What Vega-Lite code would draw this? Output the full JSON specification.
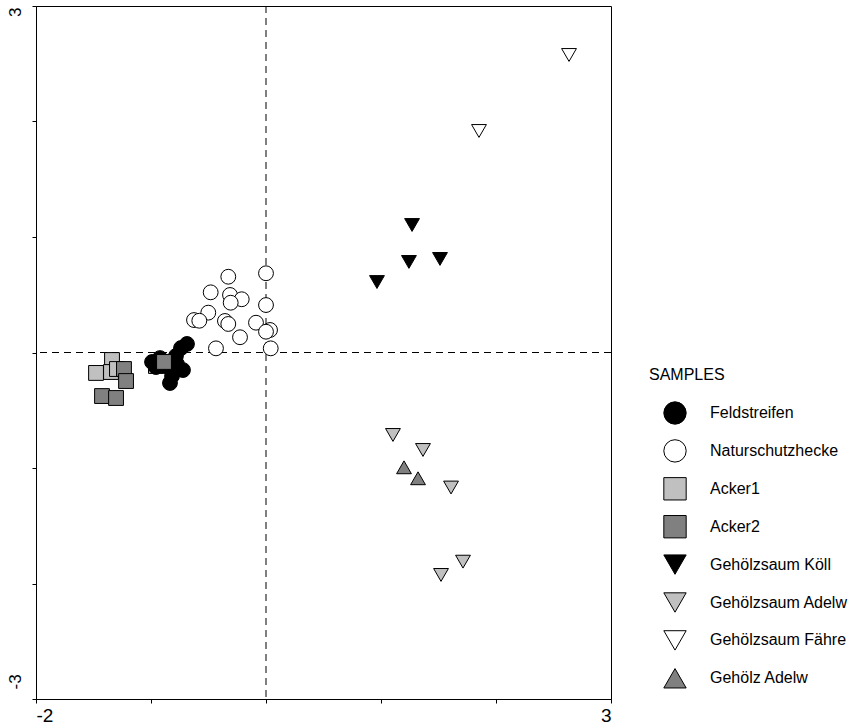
{
  "$schema": "https://vega.github.io/schema/vega-lite/v6.json",
  "width": 575,
  "height": 693,
  "autosize": {"type": "none"},
  "padding": {"left": 36, "top": 6, "right": 250, "bottom": 29},
  "background": "white",
  "config": {
    "font": "Liberation Sans",
    "view": {"stroke": "black", "strokeWidth": 1},
    "axis": {
      "grid": false,
      "domainColor": "black",
      "tickColor": "black",
      "labelColor": "black",
      "tickSize": 4,
      "labelFont": "Liberation Sans",
      "title": null
    },
    "legend": {
      "titleFont": "Liberation Sans",
      "labelFont": "Liberation Sans",
      "titleFontSize": 16,
      "titleFontWeight": "normal",
      "titleColor": "black",
      "labelFontSize": 16,
      "labelColor": "black",
      "symbolSize": 500,
      "symbolStrokeColor": "black",
      "symbolStrokeWidth": 1,
      "symbolOpacity": 1,
      "gridAlign": "all",
      "rowPadding": 9.9,
      "titlePadding": 18,
      "labelOffset": 23,
      "symbolOffset": 14,
      "labelLimit": 300
    }
  },
  "datasets": {
    "pts": [
      {"group": "Naturschutzhecke", "x": -0.328, "y": 0.656},
      {"group": "Naturschutzhecke", "x": 0.0, "y": 0.686},
      {"group": "Naturschutzhecke", "x": -0.481, "y": 0.521},
      {"group": "Naturschutzhecke", "x": -0.313, "y": 0.498},
      {"group": "Naturschutzhecke", "x": -0.211, "y": 0.461},
      {"group": "Naturschutzhecke", "x": -0.307, "y": 0.431},
      {"group": "Naturschutzhecke", "x": 0.0, "y": 0.411},
      {"group": "Naturschutzhecke", "x": -0.502, "y": 0.345},
      {"group": "Naturschutzhecke", "x": -0.626, "y": 0.281},
      {"group": "Naturschutzhecke", "x": -0.58, "y": 0.275},
      {"group": "Naturschutzhecke", "x": -0.357, "y": 0.273},
      {"group": "Naturschutzhecke", "x": -0.328, "y": 0.247},
      {"group": "Naturschutzhecke", "x": -0.087, "y": 0.258},
      {"group": "Naturschutzhecke", "x": 0.035, "y": 0.195},
      {"group": "Naturschutzhecke", "x": 0.0, "y": 0.18},
      {"group": "Naturschutzhecke", "x": -0.226, "y": 0.132},
      {"group": "Naturschutzhecke", "x": -0.435, "y": 0.036},
      {"group": "Naturschutzhecke", "x": 0.041, "y": 0.036},
      {"group": "Acker1", "x": -0.957, "y": -0.117},
      {"group": "Feldstreifen", "x": -0.687, "y": 0.074},
      {"group": "Feldstreifen", "x": -0.739, "y": 0.039},
      {"group": "Feldstreifen", "x": -0.783, "y": -0.03},
      {"group": "Feldstreifen", "x": -0.991, "y": -0.082},
      {"group": "Feldstreifen", "x": -0.922, "y": -0.048},
      {"group": "Feldstreifen", "x": -0.878, "y": -0.117},
      {"group": "Feldstreifen", "x": -0.774, "y": -0.1},
      {"group": "Feldstreifen", "x": -0.722, "y": -0.152},
      {"group": "Feldstreifen", "x": -0.817, "y": -0.203},
      {"group": "Feldstreifen", "x": -0.835, "y": -0.264},
      {"group": "Feldstreifen", "x": -0.957, "y": -0.126},
      {"group": "Acker1", "x": -1.339, "y": -0.065},
      {"group": "Acker1", "x": -1.478, "y": -0.177},
      {"group": "Acker1", "x": -1.348, "y": -0.169},
      {"group": "Acker1", "x": -1.296, "y": -0.143},
      {"group": "Acker2", "x": -1.235, "y": -0.143},
      {"group": "Acker2", "x": -1.217, "y": -0.247},
      {"group": "Acker2", "x": -1.426, "y": -0.377},
      {"group": "Acker2", "x": -1.304, "y": -0.394},
      {"group": "Acker2", "x": -0.887, "y": -0.082},
      {"group": "Gehölzsaum Köll", "x": 1.27, "y": 1.104},
      {"group": "Gehölzsaum Köll", "x": 1.243, "y": 0.784},
      {"group": "Gehölzsaum Köll", "x": 1.513, "y": 0.81},
      {"group": "Gehölzsaum Köll", "x": 0.965, "y": 0.61},
      {"group": "Gehölzsaum Adelw", "x": 1.104, "y": -0.714},
      {"group": "Gehölzsaum Adelw", "x": 1.365, "y": -0.844},
      {"group": "Gehölzsaum Adelw", "x": 1.609, "y": -1.169},
      {"group": "Gehölzsaum Adelw", "x": 1.713, "y": -1.811},
      {"group": "Gehölzsaum Adelw", "x": 1.522, "y": -1.926},
      {"group": "Gehölzsaum Fähre", "x": 2.635, "y": 2.576},
      {"group": "Gehölzsaum Fähre", "x": 1.852, "y": 1.918},
      {"group": "Gehölz Adelw", "x": 1.2, "y": -0.994},
      {"group": "Gehölz Adelw", "x": 1.322, "y": -1.089}
    ],
    "refs": [{"ref": 0}]
  },
  "layer": [
    {
      "data": {"name": "refs"},
      "mark": {"type": "rule", "color": "black", "strokeWidth": 1, "strokeDash": [7, 5]},
      "encoding": {
        "x": {"field": "ref", "type": "quantitative", "scale": {"domain": [-2, 3], "nice": false, "zero": false}}
      }
    },
    {
      "data": {"name": "refs"},
      "mark": {"type": "rule", "color": "black", "strokeWidth": 1, "strokeDash": [7, 5]},
      "encoding": {
        "y": {"field": "ref", "type": "quantitative", "scale": {"domain": [-3, 3], "nice": false, "zero": false}}
      }
    },
    {
      "data": {"name": "pts"},
      "mark": {"type": "point", "filled": true, "opacity": 1, "stroke": "black", "strokeWidth": 1, "size": 220},
      "encoding": {
        "x": {
          "field": "x", "type": "quantitative",
          "scale": {"domain": [-2, 3], "nice": false, "zero": false},
          "axis": {
            "values": [-2, -1, 0, 1, 2, 3],
            "labelExpr": "datum.value == -2 ? '-2' : datum.value == 3 ? '3' : ''",
            "labelFlush": true,
            "labelFontSize": 19,
            "labelPadding": 3
          }
        },
        "y": {
          "field": "y", "type": "quantitative",
          "scale": {"domain": [-3, 3], "nice": false, "zero": false},
          "axis": {
            "values": [-3, -2, -1, 0, 1, 2, 3],
            "labelExpr": "datum.value == -3 ? '-3' : datum.value == 3 ? '3' : ''",
            "labelAngle": -90,
            "labelFontSize": 17,
            "labelBaseline": "bottom",
            "labelAlign": {"condition": {"test": "datum.value > 0", "value": "right"}, "value": "left"},
            "labelOffset": {"condition": {"test": "datum.value > 0", "value": 1}, "value": -10},
            "labelPadding": 8,
            "labelFlush": false
          }
        },
        "fill": {
          "field": "group", "type": "nominal",
          "scale": {
            "domain": ["Feldstreifen", "Naturschutzhecke", "Acker1", "Acker2", "Gehölzsaum Köll", "Gehölzsaum Adelw", "Gehölzsaum Fähre", "Gehölz Adelw"],
            "range": ["#000000", "#ffffff", "#c0c0c0", "#808080", "#000000", "#c0c0c0", "#ffffff", "#808080"]
          },
          "legend": {
            "title": "SAMPLES", "orient": "none", "legendX": 613, "legendY": 361,
            "encode": {"symbols": {"update": {"stroke": {"value": "black"}, "strokeWidth": {"value": 1}, "opacity": {"value": 1}}}}
          }
        },
        "shape": {
          "field": "group", "type": "nominal",
          "scale": {
            "domain": ["Feldstreifen", "Naturschutzhecke", "Acker1", "Acker2", "Gehölzsaum Köll", "Gehölzsaum Adelw", "Gehölzsaum Fähre", "Gehölz Adelw"],
            "range": ["circle", "circle", "square", "square", "triangle-down", "triangle-down", "triangle-down", "triangle-up"]
          },
          "legend": {
            "title": "SAMPLES", "orient": "none", "legendX": 613, "legendY": 361,
            "encode": {"symbols": {"update": {"stroke": {"value": "black"}, "strokeWidth": {"value": 1}, "opacity": {"value": 1}}}}
          }
        }
      }
    }
  ]
}
